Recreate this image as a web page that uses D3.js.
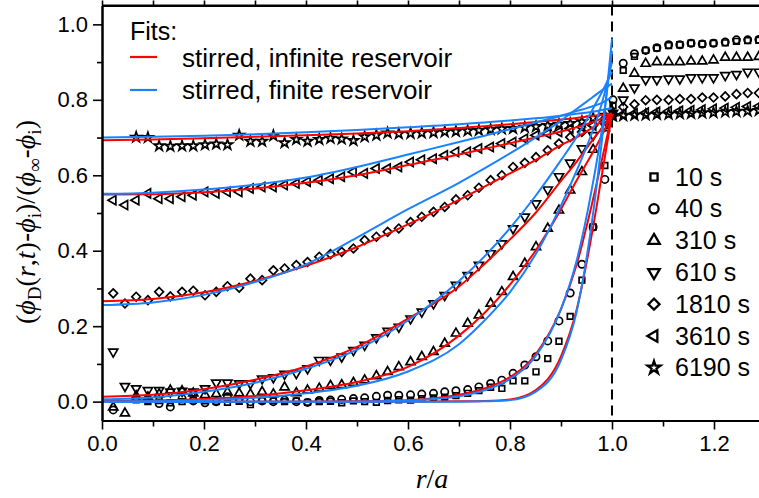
<!DOCTYPE html>
<html>
<head>
<title>Profiles</title>
<script src='https://cdnjs.cloudflare.com/ajax/libs/d3/7.8.5/d3.min.js'></script>
<style>
body{margin:0;background:white;}
text{font-family:"Liberation Sans",Arial,Helvetica,sans-serif;}
</style>
</head>
<body>
<script>

// measured points, r/a positions
var rIn = [0.022,0.045,0.067,0.090,0.112,0.134,0.157,0.179,0.202,0.224,
	0.246,0.269,0.291,0.314,0.336,0.358,0.381,0.403,0.426,0.448,
	0.470,0.493,0.515,0.538,0.560,0.582,0.605,0.627,0.650,0.672,
	0.694,0.717,0.739,0.762,0.784,0.806,0.829,0.851,0.874,0.896,
	0.918,0.941,0.963,0.986];
var rOut = [1.002,1.022,1.044,1.066,1.088,1.111,1.133,1.155,1.177,1.199,1.222,1.244,1.266,1.288];

var y10 = [null,null,0.005,0.000,0.003,-0.003,0.000,0.004,0.002,0.000,
	-0.002,0.001,-0.008,0.003,0.002,0.000,0.002,-0.002,0.000,0.001,
	-0.003,0.002,0.000,-0.002,0.003,0.005,0.004,0.008,0.010,0.012,
	0.016,0.022,0.029,0.038,0.035,0.055,0.055,0.079,0.114,0.160,
	0.226,0.322,0.463,0.626,
	0.785,0.878,0.915,0.931,0.937,0.944,0.946,0.950,0.948,0.950,0.951,0.955,0.957,0.958];
var y40 = [-0.022,null,0.008,0.004,-0.005,-0.014,0.008,0.002,-0.003,0.000,
	0.013,0.006,0.000,0.002,0.000,0.004,0.000,-0.002,0.003,0.004,
	0.006,0.008,0.010,0.014,0.017,0.017,0.018,0.020,0.022,0.026,
	0.029,0.032,0.039,0.048,0.057,0.075,0.097,0.119,0.161,0.214,
	0.288,0.364,0.463,0.589,
	0.800,0.897,0.922,0.931,0.938,0.946,0.946,0.950,0.948,0.950,0.953,0.959,0.959,0.960];
var y310 = [-0.015,-0.031,0.015,0.012,0.020,0.030,0.028,0.022,0.018,0.020,
	0.025,0.022,0.020,0.026,0.020,0.038,0.023,0.030,0.035,0.042,
	0.044,0.050,0.057,0.068,0.079,0.092,0.105,0.119,0.132,0.154,
	0.181,0.207,0.229,0.260,0.291,0.331,0.366,0.410,0.459,0.507,
	0.560,0.609,0.668,0.725,
	0.765,0.830,0.870,0.896,0.900,0.900,0.900,0.902,0.902,0.905,0.912,0.912,0.912,0.914];
var y610 = [0.132,0.041,0.035,0.030,0.030,0.026,0.028,0.026,0.035,0.050,
	0.050,0.048,0.048,0.061,0.064,0.073,0.075,0.088,0.110,0.110,
	0.119,0.136,0.150,0.170,0.187,0.198,0.220,0.238,0.260,0.282,
	0.309,0.335,0.362,0.393,0.419,0.459,0.490,0.525,0.562,0.597,
	0.633,0.671,0.706,0.732,
	0.765,0.800,0.832,0.854,0.854,0.856,0.856,0.859,0.859,0.859,0.865,0.868,0.874,0.874];
var y1810 = [0.287,0.260,0.278,0.269,0.291,0.279,0.291,0.294,0.282,0.291,
	0.306,0.302,0.326,0.322,0.348,0.353,0.362,0.370,0.384,0.391,
	0.397,0.406,0.428,0.437,0.450,0.459,0.476,0.490,0.503,0.516,
	0.536,0.547,0.567,0.587,0.600,0.622,0.633,0.648,0.666,0.684,
	0.701,0.715,0.732,0.750,
	0.760,0.781,0.788,0.799,0.800,0.800,0.802,0.802,0.806,0.806,0.809,0.815,0.818,0.818];
var y3610 = [0.534,0.521,0.534,0.552,0.538,0.538,0.543,0.547,0.556,0.552,
	0.556,0.556,0.565,0.569,0.569,0.574,0.578,0.583,0.587,0.591,
	0.596,0.609,0.605,0.618,0.618,0.622,0.635,0.641,0.644,0.653,
	0.662,0.662,0.671,0.675,0.684,0.688,0.697,0.706,0.710,0.715,
	0.724,0.728,0.732,0.741,
	0.758,0.762,0.764,0.766,0.768,0.770,0.771,0.772,0.774,0.776,0.778,0.780,0.782,0.783];
var y6190 = [null,null,0.701,0.700,0.678,0.677,0.678,0.678,0.681,0.683,
	0.681,0.706,0.690,0.690,0.705,0.686,0.695,0.690,0.695,0.698,
	0.696,0.692,0.702,0.706,0.712,0.710,0.711,0.712,0.713,0.715,
	0.716,0.718,0.719,0.721,0.723,0.724,0.727,0.729,0.732,0.735,
	0.737,0.742,0.752,0.759,
	0.757,0.758,0.759,0.760,0.761,0.762,0.763,0.764,0.765,0.766,0.768,0.769,0.770,0.772];

var times = ["10 s","40 s","310 s","610 s","1810 s","3610 s","6190 s"];

// fit curves, sampled
var fitX = [0,0.1,0.2,0.3,0.4,0.5,0.6,0.7,0.75,0.8,0.85,0.9,0.93,0.96,0.98,1.0];
var red10 = [0,0,0,0,0,0,0,0.001,0.002,0.006,0.030,0.120,0.240,0.440,0.600,0.762];
var red40 = [0,0,0,0,0,0.001,0.004,0.018,0.035,0.065,0.125,0.245,0.360,0.520,0.640,0.762];
var red310 = [0.002,0.003,0.007,0.015,0.030,0.052,0.092,0.175,0.235,0.310,0.400,0.510,0.585,0.655,0.705,0.762];
var red610 = [0.013,0.018,0.033,0.058,0.093,0.145,0.220,0.305,0.365,0.430,0.500,0.585,0.635,0.690,0.725,0.762];
var red1810 = [0.266,0.272,0.290,0.320,0.360,0.410,0.470,0.535,0.570,0.605,0.640,0.680,0.700,0.725,0.742,0.760];
var red3610 = [0.549,0.550,0.555,0.565,0.580,0.600,0.627,0.655,0.670,0.685,0.700,0.716,0.727,0.740,0.750,0.762];
var red6190 = [0.693,0.695,0.698,0.702,0.706,0.711,0.717,0.725,0.730,0.735,0.741,0.748,0.752,0.757,0.760,0.764];
var blue10 = [0,0,0,0,0,0,0,0,0.001,0.004,0.026,0.110,0.235,0.470,0.690,0.962];
var blue40 = [0,0,0,0,0,0,0.003,0.014,0.030,0.060,0.120,0.245,0.370,0.560,0.720,0.930];
var blue310 = [0,0.001,0.004,0.010,0.022,0.042,0.080,0.152,0.215,0.290,0.390,0.520,0.610,0.710,0.790,0.900];
var blue610 = [0.006,0.011,0.026,0.050,0.087,0.138,0.215,0.320,0.385,0.460,0.545,0.640,0.700,0.770,0.820,0.874];
var blue1810 = [0.256,0.263,0.283,0.317,0.364,0.435,0.510,0.580,0.618,0.658,0.700,0.745,0.775,0.805,0.825,0.843];
var blue3610 = [0.551,0.554,0.562,0.575,0.594,0.622,0.655,0.688,0.705,0.722,0.740,0.758,0.770,0.782,0.792,0.807];
var blue6190 = [0.700,0.702,0.705,0.709,0.714,0.720,0.727,0.735,0.740,0.745,0.751,0.758,0.763,0.768,0.773,0.778];

var width = 759, height = 498;
var RED = "#ff0000", BLUE = "#1a82ff";

var svg = d3.select("body").append("svg")
	.attr("width", width)
	.attr("height", height);

var x = d3.scaleLinear().domain([0, 1.3]).range([102, 765]);
var y = d3.scaleLinear().domain([-0.05, 1.05]).range([420.5, 5.5]);

svg.append("clipPath").attr("id","plotclip")
	.append("rect").attr("x",102).attr("y",5.5).attr("width",663).attr("height",415);

var plot = svg.append("g").attr("clip-path","url(#plotclip)");

// dashed line at r = a
plot.append("line")
	.attr("x1", x(1)).attr("x2", x(1))
	.attr("y1", y(1.05)).attr("y2", y(-0.05))
	.attr("stroke","black").attr("stroke-width",2)
	.attr("stroke-dasharray","10,6");

// markers
var shapes = [
	{type:d3.symbolSquare, size:32, rot:0},
	{type:d3.symbolCircle, size:42, rot:0},
	{type:d3.symbolTriangle, size:36, rot:0},
	{type:d3.symbolTriangle, size:36, rot:180},
	{type:d3.symbolSquare, size:38, rot:45},
	{type:d3.symbolTriangle, size:36, rot:-90},
	{type:d3.symbolStar, size:32, rot:0}
];
var series = [y10, y40, y310, y610, y1810, y3610, y6190];
var rAll = rIn.concat(rOut);

series.forEach(function(vals, k){
	var pts = [];
	vals.forEach(function(v, i){ if (v !== null) pts.push({r: rAll[i], v: v}); });
	var sh = shapes[k];
	plot.selectAll(".pt" + k)
		.data(pts)
		.enter().append("path")
		.attr("class","pt" + k)
		.attr("d", d3.symbol().type(sh.type).size(sh.size))
		.attr("transform", function(d){
			return "translate(" + x(d.r) + "," + y(d.v) + ") rotate(" + sh.rot + ")"; })
		.attr("fill","none")
		.attr("stroke","black")
		.attr("stroke-width",1.7);
});

// fits
var line = d3.line()
	.x(function(d, i){ return x(fitX[i]); })
	.y(function(d){ return y(d); })
	.curve(d3.curveMonotoneX);

[red10, red40, red310, red610, red1810, red3610, red6190].forEach(function(c){
	plot.append("path").attr("d", line(c))
		.attr("fill","none").attr("stroke",RED).attr("stroke-width",2);
});
[blue10, blue40, blue310, blue610, blue1810, blue3610, blue6190].forEach(function(c){
	plot.append("path").attr("d", line(c))
		.attr("fill","none").attr("stroke",BLUE).attr("stroke-width",2);
});

// frame
svg.append("line").attr("x1",102).attr("x2",765).attr("y1",5.5).attr("y2",5.5)
	.attr("stroke","black").attr("stroke-width",2);

// axes
var xMajor = [0,0.2,0.4,0.6,0.8,1.0,1.2];
var xMinor = [0.1,0.3,0.5,0.7,0.9,1.1];
var yMajor = [0,0.2,0.4,0.6,0.8,1.0];
var yMinor = [0.1,0.3,0.5,0.7,0.9];

svg.append("g").attr("transform","translate(0,420.5)")
	.call(d3.axisBottom(x).tickValues(xMajor).tickFormat(d3.format(".1f")).tickSize(9).tickSizeOuter(0).tickPadding(6));
svg.append("g").attr("transform","translate(0,420.5)")
	.call(d3.axisBottom(x).tickValues(xMinor).tickFormat("").tickSize(6).tickSizeOuter(0));
svg.append("g").attr("transform","translate(0,5.5)")
	.call(d3.axisTop(x).tickValues(xMajor.concat(xMinor)).tickFormat("").tickSize(5).tickSizeOuter(0));

svg.append("g").attr("transform","translate(102,0)")
	.call(d3.axisLeft(y).tickValues(yMajor).tickFormat(d3.format(".1f")).tickSize(9).tickSizeOuter(0).tickPadding(5));
svg.append("g").attr("transform","translate(102,0)")
	.call(d3.axisLeft(y).tickValues(yMinor).tickFormat("").tickSize(5).tickSizeOuter(0));

svg.selectAll(".domain").attr("stroke-width",2);
svg.selectAll(".tick line").attr("stroke-width",1.6);
svg.selectAll(".tick text").attr("font-size",22).attr("fill","black")
	.style("font-family","'Liberation Sans',Arial,sans-serif");

// axis titles
var xt = svg.append("text").attr("x",432).attr("y",488).attr("text-anchor","middle")
	.style("font-family","'Liberation Serif','Times New Roman',serif").attr("font-size",28);
xt.append("tspan").attr("font-style","italic").text("r");
xt.append("tspan").text("/");
xt.append("tspan").attr("font-style","italic").text("a");

var yt = svg.append("text").attr("transform","translate(35,222) rotate(-90)")
	.attr("text-anchor","middle")
	.style("font-family","'Liberation Serif','Times New Roman',serif").attr("font-size",28);
var parts = [
	["(",0,0],["ϕ",1,0],["D",0,1],["(",0,-1],["r",1,0],[",",0,0],["t",1,0],[")",0,0],
	["-",2,0],["ϕ",1,0],["i",0,1],[")",0,-1],["/",0,0],["(",0,0],["ϕ",1,0],["∞",0,1],
	["-",2,-1],["ϕ",1,0],["i",0,1],[")",0,-1]
];
parts.forEach(function(p){
	var t = yt.append("tspan").text(p[0]);
	if (p[1] == 1) t.attr("font-style","italic");
	if (p[1] == 2) t.style("font-family","'Liberation Sans',Arial,sans-serif");
	if (p[2] == 1) t.attr("dy",6).attr("font-size",19);
	if (p[2] == -1) t.attr("dy",-6);
});

// fit legend
svg.append("text").attr("x",130).attr("y",40).attr("font-size",25).text("Fits:");
[["stirred, infinite reservoir",RED,57,66.5],["stirred, finite reservoir",BLUE,90,99]].forEach(function(f){
	svg.append("line").attr("x1",130).attr("x2",157).attr("y1",f[2]).attr("y2",f[2])
		.attr("stroke",f[1]).attr("stroke-width",2.2);
	svg.append("text").attr("x",182).attr("y",f[3]).attr("font-size",26).text(f[0]);
});

// time legend
times.forEach(function(t, k){
	var cy = 177 + k*31.8;
	var sh = shapes[k];
	svg.append("path")
		.attr("d", d3.symbol().type(sh.type).size(sh.size*1.6))
		.attr("transform","translate(654," + cy + ") rotate(" + sh.rot + ")")
		.attr("fill","none").attr("stroke","black").attr("stroke-width",2.3);
	svg.append("text").attr("x",675).attr("y",cy + 8.5).attr("font-size",25).text(t);
});

</script>
</body>
</html>
